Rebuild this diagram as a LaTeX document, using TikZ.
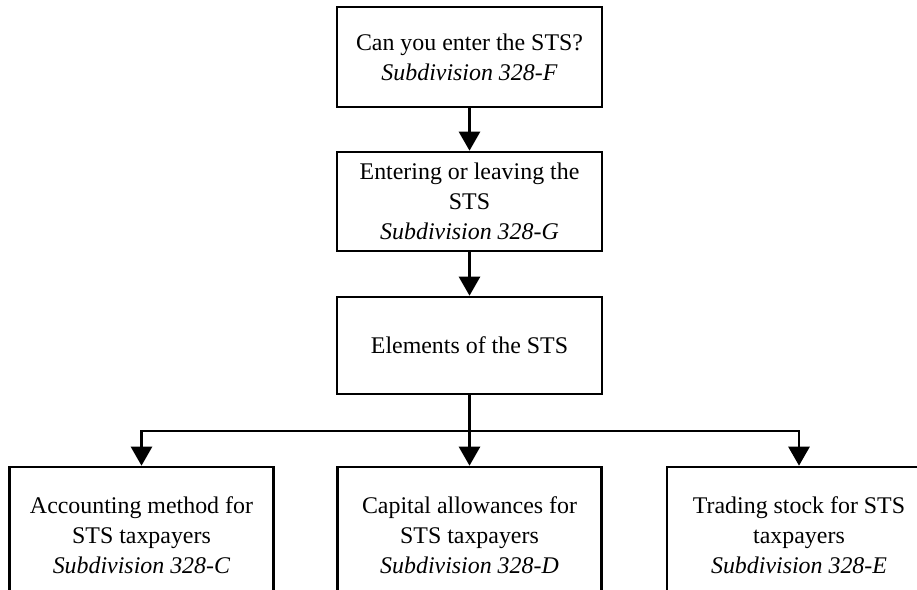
\documentclass[tikz,border=0pt]{standalone}
\usepackage{fontspec}
\setmainfont{Liberation Serif}
\usetikzlibrary{arrows.meta,positioning}
\tikzset{
  flow/.style={-{Triangle[length=3.8mm,width=4.2mm]},black,line width=1.5pt},
  wire/.style={black,line width=1.5pt},
  stsbox/.style={draw=black,line width=1.5pt,fill=white,minimum width=5.3cm,
                 minimum height=1.98cm,inner sep=1.5mm,align=center,
                 font=\fontsize{13.6}{17}\selectfont},
  leafbox/.style={stsbox,minimum width=5.28cm,minimum height=2.72cm},
}
\newcommand{\subdiv}[1]{\textit{Subdivision 328-#1}}

\begin{document}
\begin{tikzpicture}
    \useasboundingbox (0,0) rectangle (18.34,-11.78);

    % main chain
    \node[stsbox,minimum height=2.0cm] (enter) at (9.39,-1.14)
      {Can you enter the STS?\\\subdiv{F}};
    \node[stsbox] (leave) at (9.39,-4.03)
      {Entering or leaving the\\STS\\\subdiv{G}};
    \node[stsbox,minimum height=1.94cm] (elem) at (9.39,-6.91)
      {Elements of the STS};
    \draw[flow] (enter.south) -- (leave.north);
    \draw[flow] (leave.south) -- (elem.north);

    % the three parts
    \node[leafbox] (acct) at (2.83,-10.70)
      {Accounting method for\\STS taxpayers\\\subdiv{C}};
    \node[leafbox] (capital) at (9.39,-10.70)
      {Capital allowances for\\STS taxpayers\\\subdiv{D}};
    \node[leafbox] (stock) at (15.98,-10.70)
      {Trading stock for STS\\taxpayers\\\subdiv{E}};

    \coordinate (bus) at (9.39,-8.62);
    \draw[wire] (elem.south) -- (bus);
    \draw[flow] (bus) -| (acct.north);
    \draw[flow] (bus) -- (capital.north);
    \draw[flow] (bus) -| (stock.north);
  \end{tikzpicture}
\end{document}
